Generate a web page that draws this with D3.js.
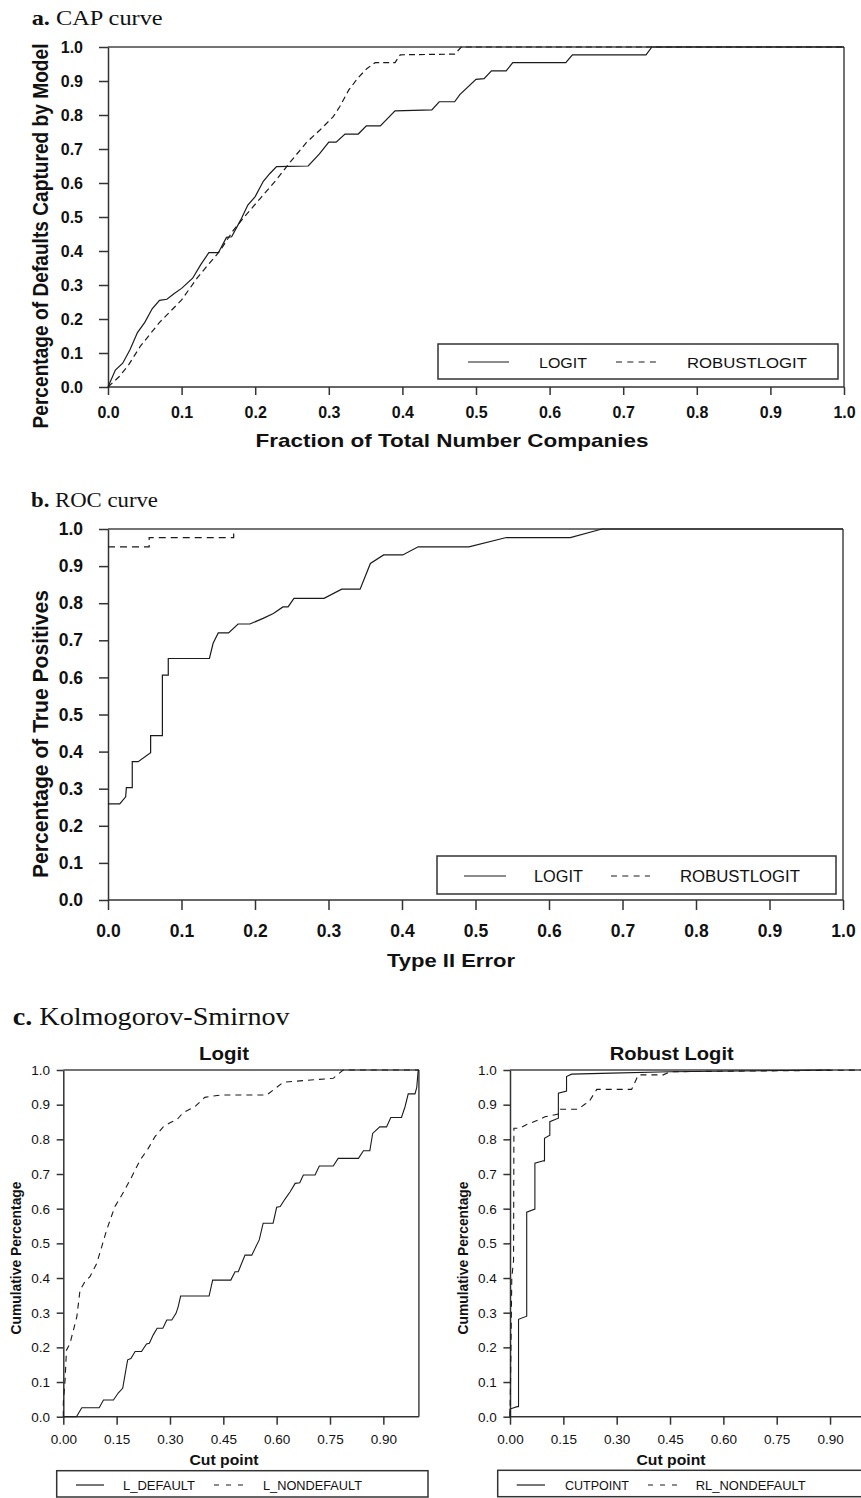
<html>
<head>
  <script src="https://d3js.org/d3.v7.min.js"></script>
  <style>
    body { margin: 0; background: #fff; }
    svg text { font-family: "Liberation Sans", Arial, sans-serif; fill: #111; }
    svg text.ptitle { font-family: "Liberation Serif", "Times New Roman", serif; }
    .axis path, .axis line { stroke: #333; stroke-width: 1.5; }
    .border { stroke: #444; stroke-width: 1.5; }
    .curve { fill: none; stroke: #1a1a1a; stroke-width: 1.2; }
    .legend rect { fill: none; stroke: #333; stroke-width: 1.5; }
    .legend line { stroke: #1a1a1a; stroke-width: 1.2; }
  </style>
</head>
<body>
<svg id="chart" width="861" height="1498"></svg>
<script>
// ---- data ----
const tenthTicks = [0, 0.1, 0.2, 0.3, 0.4, 0.5, 0.6, 0.7, 0.8, 0.9, 1.0];
const cutTicks = [0, 0.15, 0.30, 0.45, 0.60, 0.75, 0.90];

// a. CAP curve
const capLogit = [[0,0],[0.01,0.05],[0.02,0.07],[0.03,0.11],[0.04,0.16],[0.05,0.19],[0.06,0.23],[0.07,0.255],
  [0.08,0.258],[0.09,0.275],[0.1,0.29],[0.115,0.32],[0.126,0.36],[0.137,0.395],[0.15,0.395],[0.161,0.44],
  [0.168,0.442],[0.18,0.49],[0.19,0.535],[0.2,0.56],[0.211,0.605],[0.22,0.628],[0.229,0.648],[0.272,0.65],
  [0.287,0.685],[0.30,0.72],[0.31,0.72],[0.322,0.744],[0.34,0.744],[0.351,0.768],[0.37,0.768],[0.39,0.812],
  [0.44,0.815],[0.45,0.839],[0.471,0.839],[0.478,0.86],[0.50,0.905],[0.511,0.907],[0.521,0.93],[0.541,0.93],
  [0.55,0.954],[0.622,0.954],[0.631,0.977],[0.731,0.977],[0.739,1.0],[1.0,1.0]];
const capRobust = [[0,0],[0.015,0.03],[0.028,0.065],[0.044,0.12],[0.07,0.19],[0.1,0.256],[0.121,0.32],[0.13,0.344],
  [0.152,0.40],[0.17,0.46],[0.189,0.51],[0.207,0.555],[0.229,0.61],[0.247,0.66],[0.27,0.72],[0.288,0.756],
  [0.306,0.795],[0.315,0.825],[0.327,0.873],[0.34,0.91],[0.352,0.937],[0.363,0.954],[0.39,0.954],[0.397,0.977],
  [0.471,0.979],[0.48,1.0],[1,1]];
const capLegend = ["LOGIT", "ROBUSTLOGIT"];

// b. ROC curve
const rocLogit = [[0,0.259],[0.016,0.259],[0.024,0.278],[0.025,0.303],[0.033,0.303],[0.033,0.373],[0.041,0.373],
  [0.058,0.397],[0.058,0.443],[0.074,0.443],[0.074,0.606],[0.082,0.606],[0.082,0.651],[0.138,0.651],[0.143,0.692],
  [0.15,0.72],[0.164,0.72],[0.177,0.744],[0.193,0.744],[0.211,0.759],[0.225,0.772],[0.238,0.79],[0.245,0.79],
  [0.253,0.813],[0.294,0.813],[0.318,0.838],[0.343,0.838],[0.357,0.907],[0.375,0.93],[0.401,0.93],[0.422,0.952],
  [0.491,0.952],[0.542,0.977],[0.629,0.977],[0.672,1.0],[1,1]];
const rocRobust = [[0,0.952],[0.056,0.952],[0.056,0.977],[0.171,0.977],[0.171,1.0]];
const rocLegend = ["LOGIT", "ROBUSTLOGIT"];

// c. Kolmogorov-Smirnov
const ksLDefault = [[0,0],[0.037,0],[0.052,0.026],[0.101,0.026],[0.113,0.048],[0.141,0.048],[0.155,0.069],
  [0.167,0.082],[0.176,0.135],[0.181,0.164],[0.19,0.168],[0.202,0.188],[0.22,0.188],[0.234,0.21],[0.242,0.212],
  [0.253,0.236],[0.264,0.255],[0.28,0.255],[0.291,0.279],[0.305,0.279],[0.317,0.298],[0.323,0.317],[0.33,0.348],
  [0.41,0.348],[0.42,0.394],[0.471,0.394],[0.483,0.418],[0.492,0.418],[0.511,0.466],[0.53,0.466],[0.551,0.51],
  [0.562,0.558],[0.59,0.558],[0.6,0.604],[0.61,0.606],[0.623,0.627],[0.638,0.649],[0.652,0.673],[0.665,0.675],
  [0.675,0.697],[0.708,0.697],[0.72,0.723],[0.759,0.723],[0.773,0.745],[0.83,0.745],[0.844,0.767],[0.862,0.767],
  [0.87,0.817],[0.89,0.836],[0.909,0.836],[0.921,0.863],[0.951,0.863],[0.961,0.894],[0.97,0.931],[0.989,0.931],
  [0.994,0.95],[0.998,1.0]];
const ksLNonDefault = [[0,0],[0,0.04],[0.005,0.106],[0.009,0.192],[0.019,0.212],[0.038,0.288],[0.047,0.365],
  [0.061,0.39],[0.075,0.404],[0.094,0.442],[0.108,0.49],[0.122,0.539],[0.145,0.606],[0.165,0.64],[0.188,0.683],
  [0.216,0.74],[0.239,0.774],[0.258,0.808],[0.281,0.836],[0.30,0.848],[0.319,0.856],[0.337,0.877],[0.37,0.894],
  [0.398,0.921],[0.422,0.925],[0.445,0.928],[0.572,0.928],[0.59,0.942],[0.619,0.965],[0.759,0.976],[0.787,1.0],[1,1]];
const ksCutpoint = [[0,0],[0,0.022],[0.02,0.029],[0.024,0.029],[0.024,0.281],[0.047,0.29],[0.047,0.59],
  [0.07,0.599],[0.07,0.731],[0.094,0.738],[0.097,0.738],[0.097,0.803],[0.112,0.812],[0.112,0.851],[0.136,0.861],
  [0.136,0.933],[0.159,0.939],[0.159,0.981],[0.173,0.988],[0.285,0.991],[0.45,0.995],[0.9,1.0]];
const ksRLNonDefault = [[0,0],[0.002,0.14],[0.005,0.40],[0.01,0.45],[0.011,0.832],[0.028,0.832],[0.047,0.843],
  [0.08,0.856],[0.098,0.865],[0.136,0.873],[0.141,0.887],[0.192,0.887],[0.211,0.902],[0.22,0.905],[0.244,0.944],
  [0.342,0.944],[0.361,0.986],[0.431,0.986],[0.45,0.995],[1,1]];
const ksLogitLegend = ["L_DEFAULT", "L_NONDEFAULT"];
const ksRobustLegend = ["CUTPOINT", "RL_NONDEFAULT"];

const svg = d3.select("svg#chart");
const W = +svg.attr("width");

function fitText(sel, w) {
  return sel.attr("textLength", w).attr("lengthAdjust", "spacingAndGlyphs");
}

function panelTitle(letter, rest, x, y, size, w) {
  const t = svg.append("text").attr("class", "ptitle").attr("x", x).attr("y", y)
    .style("font-size", size + "px");
  t.append("tspan").style("font-weight", "bold").text(letter);
  t.append("tspan").text(rest);
  fitText(t, w);
}

function drawPanel(p) {
  const x = d3.scaleLinear().domain([0, 1]).range([p.left, p.right]);
  const y = d3.scaleLinear().domain([0, 1]).range([p.bottom, p.top]);
  const g = svg.append("g");

  // frame
  g.append("line").attr("class", "border")
    .attr("x1", x(0)).attr("x2", Math.min(x(1), W + 5)).attr("y1", y(1)).attr("y2", y(1));
  if (x(1) <= W) {
    g.append("line").attr("class", "border")
      .attr("x1", x(1)).attr("x2", x(1)).attr("y1", y(1)).attr("y2", y(0));
  }

  const xAxis = d3.axisBottom(x).tickValues(p.xTicks).tickFormat(d3.format(p.xFmt))
    .tickSize(p.xTick[0]).tickPadding(p.xTick[1]).tickSizeOuter(0);
  const yAxis = d3.axisLeft(y).tickValues(tenthTicks).tickFormat(d3.format(".1f"))
    .tickSize(p.yTick[0]).tickPadding(p.yTick[1]).tickSizeOuter(0);

  g.append("g").attr("class", "axis")
    .attr("transform", "translate(0," + y(0) + ")")
    .call(xAxis)
    .selectAll("text").style("font-size", p.tickFont + "px").style("font-weight", p.tickWeight);
  g.select(".axis .domain").attr("d", "M" + x(0) + ",0H" + Math.min(x(1), W + 5));
  g.append("g").attr("class", "axis")
    .attr("transform", "translate(" + x(0) + ",0)")
    .call(yAxis)
    .selectAll("text").style("font-size", p.tickFont + "px").style("font-weight", p.tickWeight);

  // curves
  const line = d3.line().x(d => x(d[0])).y(d => y(d[1]));
  p.series.forEach(s => {
    g.append("path").datum(s.values).attr("class", "curve")
      .attr("d", line)
      .attr("stroke-dasharray", s.dash)
      .style("stroke-width", p.curveWidth);
  });

  // chart title (panel c)
  if (p.chartTitle) {
    fitText(g.append("text").attr("x", p.chartTitle.x).attr("y", p.chartTitle.y)
      .attr("text-anchor", "middle").style("font-weight", "bold")
      .style("font-size", p.chartTitle.size + "px").text(p.chartTitle.text), p.chartTitle.w);
  }

  // axis titles
  fitText(g.append("text").attr("x", p.xTitle.x).attr("y", p.xTitle.y)
    .attr("text-anchor", "middle").style("font-weight", "bold")
    .style("font-size", p.xTitle.size + "px").text(p.xTitle.text), p.xTitle.w);
  fitText(g.append("text")
    .attr("transform", "translate(" + p.yTitle.x + "," + p.yTitle.y + ") rotate(-90) scale(1," + p.yTitle.thick + ")")
    .attr("text-anchor", "middle").style("font-weight", "bold")
    .style("font-size", p.yTitle.size + "px").text(p.yTitle.text), p.yTitle.w);

  // legend
  const L = p.legend;
  const lg = g.append("g").attr("class", "legend");
  lg.append("rect").attr("x", L.box[0]).attr("y", L.box[1]).attr("width", L.box[2]).attr("height", L.box[3]);
  L.items.forEach((it, i) => {
    lg.append("line").attr("x1", it.sample[0]).attr("x2", it.sample[1])
      .attr("y1", L.lineY).attr("y2", L.lineY)
      .attr("stroke-dasharray", i === 0 ? null : L.dash);
    fitText(lg.append("text").attr("x", it.tx).attr("y", L.textY)
      .style("font-size", L.size + "px").text(L.labels[i]), it.tw);
  });
}

// ---- a. CAP curve ----
panelTitle("a.", " CAP curve", 31.7, 25, 21, 131);
drawPanel({
  left: 108, right: 844, top: 47, bottom: 387,
  xTicks: tenthTicks, xFmt: ".1f", xTick: [8, 12], yTick: [9, 16],
  tickFont: 16, tickWeight: "bold", curveWidth: 1.2,
  series: [{ values: capLogit, dash: null }, { values: capRobust, dash: "6,4" }],
  xTitle: { text: "Fraction of Total Number Companies", x: 452, y: 447, size: 19, w: 393 },
  yTitle: { text: "Percentage of Defaults Captured by Model", x: 48, y: 236, size: 18, w: 385, thick: 1.2 },
  legend: {
    box: [438, 344, 400, 35], lineY: 362, textY: 368, size: 14, dash: "6,5.3", labels: capLegend,
    items: [{ sample: [468, 509], tx: 539, tw: 48 }, { sample: [616, 656], tx: 687, tw: 120 }]
  }
});

// ---- b. ROC curve ----
panelTitle("b.", "  ROC curve", 31, 507, 21, 127);
drawPanel({
  left: 108, right: 843, top: 529, bottom: 900,
  xTicks: tenthTicks, xFmt: ".1f", xTick: [10, 15], yTick: [9, 16],
  tickFont: 17.5, tickWeight: "bold", curveWidth: 1.2,
  series: [{ values: rocLogit, dash: null }, { values: rocRobust, dash: "7,5" }],
  xTitle: { text: "Type II Error", x: 451, y: 967, size: 19, w: 128 },
  yTitle: { text: "Percentage of True Positives", x: 48, y: 734, size: 19, w: 288, thick: 1.15 },
  legend: {
    box: [437, 856, 399, 38], lineY: 876, textY: 882, size: 16, dash: "6,5.3", labels: rocLegend,
    items: [{ sample: [464, 506], tx: 534, tw: 49 }, { sample: [611, 650], tx: 680, tw: 120 }]
  }
});

// ---- c. Kolmogorov-Smirnov ----
panelTitle("c.", " Kolmogorov-Smirnov", 12.7, 1025, 26, 277);
drawPanel({
  left: 63.3, right: 418.9, top: 1070, bottom: 1416.7,
  xTicks: cutTicks, xFmt: ".2f", xTick: [8, 10], yTick: [6.6, 6.7],
  tickFont: 13.5, tickWeight: "normal", curveWidth: 1.1,
  series: [{ values: ksLDefault, dash: null }, { values: ksLNonDefault, dash: "6,5" }],
  chartTitle: { text: "Logit", x: 224, y: 1060, size: 19, w: 50 },
  xTitle: { text: "Cut point", x: 224, y: 1465, size: 14.5, w: 69 },
  yTitle: { text: "Cumulative Percentage", x: 20.5, y: 1258, size: 14, w: 153, thick: 1.05 },
  legend: {
    box: [56.7, 1470.7, 371.3, 26.3], lineY: 1485, textY: 1490, size: 13.5, dash: "5,7", labels: ksLogitLegend,
    items: [{ sample: [76, 104], tx: 123, tw: 72 }, { sample: [214, 243], tx: 263, tw: 99 }]
  }
});
drawPanel({
  left: 510, right: 865.6, top: 1070, bottom: 1416.7,
  xTicks: cutTicks, xFmt: ".2f", xTick: [8, 10], yTick: [6.6, 6.7],
  tickFont: 13.5, tickWeight: "normal", curveWidth: 1.1,
  series: [{ values: ksCutpoint, dash: null }, { values: ksRLNonDefault, dash: "6,5" }],
  chartTitle: { text: "Robust Logit", x: 671.7, y: 1060, size: 19, w: 124 },
  xTitle: { text: "Cut point", x: 671, y: 1465, size: 14.5, w: 69 },
  yTitle: { text: "Cumulative Percentage", x: 467.5, y: 1258, size: 14, w: 153, thick: 1.05 },
  legend: {
    box: [497.7, 1470.3, 380, 26.4], lineY: 1485, textY: 1490, size: 13.5, dash: "5,7", labels: ksRobustLegend,
    items: [{ sample: [516.7, 545], tx: 565, tw: 64 }, { sample: [648, 677], tx: 695.7, tw: 110 }]
  }
});
</script>
</body>
</html>
